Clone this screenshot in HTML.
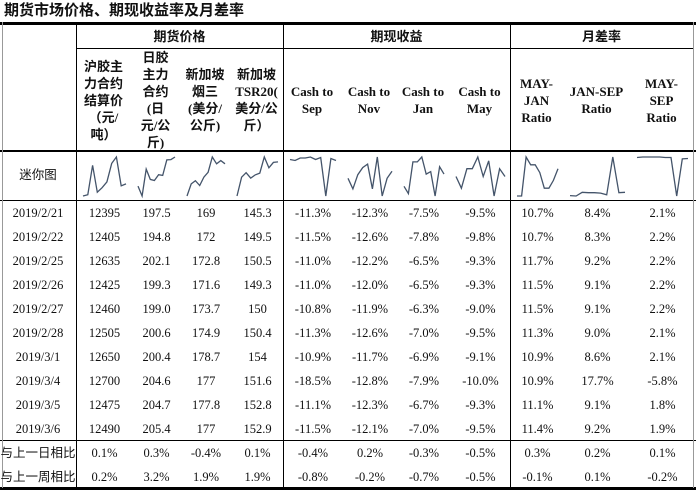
<!DOCTYPE html>
<html><head><meta charset="utf-8">
<style>
body{margin:0;background:#fff;}
#root{position:relative;width:696px;height:494px;overflow:hidden;background:#fff;font-family:"Liberation Serif","Noto Serif CJK SC",serif;color:#111;}
.t{position:absolute;font-size:12.5px;text-align:center;white-space:nowrap;line-height:14px;}
.h{position:absolute;display:flex;align-items:center;justify-content:center;text-align:center;font-weight:bold;font-size:13px;line-height:17px;font-family:"Liberation Serif","Noto Sans CJK SC",serif;}
.ln{position:absolute;background:#000;}
.cjk{font-family:"Liberation Sans","Noto Sans CJK SC",sans-serif;}
</style></head>
<body>
<div id="root">
<div class="cjk" style="position:absolute;left:4px;top:2px;font-size:15px;font-weight:bold;line-height:18px;">期货市场价格、期现收益率及月差率</div>
<svg id="spark" width="696" height="494" style="position:absolute;left:0;top:0"></svg>
</div>
<script>
const dates=["2019/2/21","2019/2/22","2019/2/25","2019/2/26","2019/2/27","2019/2/28","2019/3/1","2019/3/4","2019/3/5","2019/3/6"];
const shfe=[12395,12405,12635,12425,12460,12505,12650,12700,12475,12490];
const jpx=[197.5,194.8,202.1,199.3,199.0,200.6,200.4,204.6,204.7,205.4];
const rss3=[169,172,172.8,171.6,173.7,174.9,178.7,177,177.8,177];
const tsr20=[145.3,149.5,150.5,149.3,150,150.4,154,151.6,152.8,152.9];
const cSep=[-11.3,-11.5,-11.0,-11.0,-10.8,-11.3,-10.9,-18.5,-11.1,-11.5];
const cNov=[-12.3,-12.6,-12.2,-12.0,-11.9,-12.6,-11.7,-12.8,-12.3,-12.1];
const cJan=[-7.5,-7.8,-6.5,-6.5,-6.3,-7.0,-6.9,-7.9,-6.7,-7.0];
const cMay=[-9.5,-9.8,-9.3,-9.3,-9.0,-9.5,-9.1,-10.0,-9.3,-9.5];
const mayJan=[10.7,10.7,11.7,11.5,11.5,11.3,10.9,10.9,11.1,11.4];
const janSep=[8.4,8.3,9.2,9.1,9.1,9.0,8.6,17.7,9.1,9.2];
const maySep=[2.1,2.2,2.2,2.2,2.2,2.1,2.1,-5.8,1.8,1.9];
const dayChg=["0.1%","0.3%","-0.4%","0.1%","-0.4%","0.2%","-0.3%","-0.5%","0.3%","0.2%","0.1%"];
const weekChg=["0.2%","3.2%","1.9%","1.9%","-0.8%","-0.2%","-0.7%","-0.5%","-0.1%","0.1%","-0.2%"];

const root=document.getElementById('root');
const svg=document.getElementById('spark');
const NS="http://www.w3.org/2000/svg";
const edges=[76,131,180,230,283,341,397,449,510,563,630,693];
const series=[shfe,jpx,rss3,tsr20,cSep,cNov,cJan,cMay,mayJan,janSep,maySep];
const isPct=[0,0,0,0,1,1,1,1,1,1,1];
const names=["shfe","jpx","rss3","tsr20","cash-sep","cash-nov","cash-jan","cash-may","may-jan","jan-sep","may-sep"];
const dec=[0,1,-1,-1,1,1,1,1,1,1,1];
function fmt(v,c){if(isPct[c])return v.toFixed(1)+"%";if(dec[c]===0)return String(v);if(dec[c]===1)return v.toFixed(1);return String(v);}
function line(x,y,w,h,n,col){const d=document.createElement('div');d.className='ln';d.style.cssText=`left:${x}px;top:${y}px;width:${w}px;height:${h}px;`+(col?`background:${col};`:'');


root.appendChild(d);}
function txt(s,cx,cy,n,cls){const d=document.createElement('div');d.className='t'+(cls?' '+cls:'');d.textContent=s;d.style.left=(cx-40)+'px';d.style.width='80px';d.style.top=(cy-7)+'px';


root.appendChild(d);}
function hdr(html,x1,x2,y1,y2,n){const d=document.createElement('div');d.className='h';d.innerHTML=html;d.style.cssText=`left:${x1}px;top:${y1}px;width:${x2-x1}px;height:${y2-y1}px;`;


root.appendChild(d);}
// lines
line(0,22,696,3,'top-rule');
line(76,48,617,1,'group-header-rule');
line(0,150,696,2,'header-bottom-rule');
line(0,200,696,1,'sparkline-row-rule');
line(0,440,696,1,'comparison-rule');
line(0,487,696,3,'bottom-rule');
line(2,22,1,466,'left-border','#999');
line(693,22,1,466,'right-border','#999');
line(76,22,1,466,'date-col-rule');
line(283,22,1,466,'futures-group-rule');
line(510,22,1,466,'spot-group-rule');
// headers
hdr('期货价格',76,283,25,48,'futures-price-header');
hdr('期现收益',283,510,25,48,'spot-return-header');
hdr('月差率',510,693,25,48,'month-spread-header');
const hs=['沪胶主<br>力合约<br>结算价<br>（元/<br>吨）','日胶<br>主力<br>合约<br>(日<br>元/公<br>斤)','新加坡<br>烟三<br>(美分/<br>公斤)','新加坡<br>TSR20(<br>美分/公<br>斤）','Cash to<br>Sep','Cash to<br>Nov','Cash to<br>Jan','Cash to<br>May','MAY-<br>JAN<br>Ratio','JAN-SEP<br>Ratio','MAY-<br>SEP<br>Ratio'];
for(let c=0;c<11;c++)hdr(hs[c],edges[c],edges[c+1],50,150,'col-header-'+names[c]);
txt('迷你图',38,175,'sparkline-label','cjk');
// data rows
for(let i=0;i<dates.length;i++){
  const cy=213+i*24;
  txt(dates[i],38,cy,'date-'+dates[i]);
  for(let c=0;c<11;c++){txt(fmt(series[c][i],c),(edges[c]+edges[c+1])/2+1,cy,'cell-'+names[c]+'-'+i);}
}
txt('与上一日相比',38,453,'day-change-label','cjk');
txt('与上一周相比',38,477,'week-change-label','cjk');
for(let c=0;c<11;c++){const cx=(edges[c]+edges[c+1])/2+1;
  txt(dayChg[c],cx,453,'day-change-'+names[c]);
  txt(weekChg[c],cx,477,'week-change-'+names[c]);}
// sparklines
for(let c=0;c<11;c++){
  const s=series[c];const mn=Math.min(...s),mx=Math.max(...s);
  const x0=edges[c]+7,x1=edges[c+1]-5,y0=157,y1=196;
  const pts=s.map((v,i)=>{const x=x0+(x1-x0)*i/(s.length-1);const y=y1-(mx===mn?0.5:(v-mn)/(mx-mn))*(y1-y0);return x.toFixed(1)+','+y.toFixed(1);}).join(' ');
  const p=document.createElementNS(NS,'polyline');
  p.setAttribute('points',pts);p.setAttribute('fill','none');p.setAttribute('stroke','#44546a');p.setAttribute('stroke-width','1.3');
  
  
  svg.appendChild(p);
}
</script>
</body></html>
